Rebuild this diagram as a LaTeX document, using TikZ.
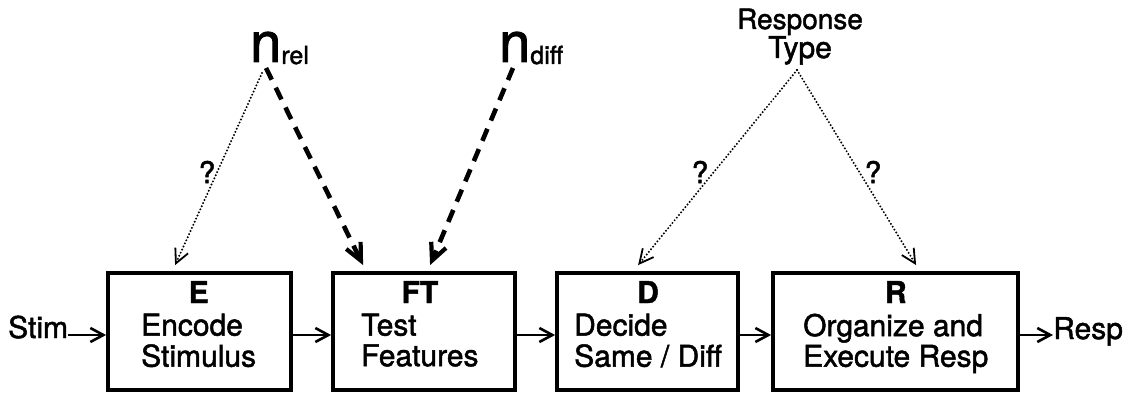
\documentclass[tikz,border=0pt]{standalone}
\usepackage{fontspec}
\setmainfont{TeX Gyre Heros}[FakeBold=1.6]
\usetikzlibrary{arrows.meta}
\begin{document}
\begin{tikzpicture}[x=1pt,y=-1pt,
  every node/.style={inner sep=0pt, font=\fontsize{30}{29}\selectfont},
  stage/.style={draw, line width=3.8pt, minimum width=#1, minimum height=117pt},
  flow/.style={line width=2.8pt, -{Straight Barb[length=13pt,width=14pt,line width=2.6pt]}},
  influence/.style={line width=4.6pt, dash pattern=on 13pt off 9pt,
    -{Straight Barb[length=17pt,width=16pt,line width=4.2pt]}},
  maybe/.style={line width=2.2pt, line cap=round, dash pattern=on 0pt off 3.4pt,
    -{Straight Barb[length=14pt,width=14pt,line width=1.8pt,line cap=butt]}},
  quest/.style={font=\fontsize{30}{30}\selectfont}
]
\useasboundingbox (0,0) rectangle (1132,393);

% processing stages
\node[stage=183] (E)  at (199.5,331.5) {};
\node[stage=182] (FT) at (424,331.5) {};
\node[stage=181] (D)  at (647.5,331.5) {};
\node[stage=245] (R)  at (895.5,331.5) {};

% stage labels: centred bold name over a left-aligned description
\newcommand\stagetext[3]{\begin{tabular}[t]{@{}l@{}}\multicolumn{1}{@{}c@{}}{\bfseries #1}\\[2pt]#2\\#3\end{tabular}}
\node[anchor=base west] (Etxt)  at (141,303) {\stagetext{E}{Encode}{Stimulus}};
\node[anchor=base west] (FTtxt) at (361,303) {\stagetext{FT}{Test}{Features}};
\node[anchor=base west] (Dtxt)  at (574,303) {\stagetext{D}{Decide}{Same / Diff}};
\node[anchor=base west] (Rtxt)  at (803,303) {\stagetext{R}{Organize and}{Execute Resp}};

% input and output
\node[anchor=base west] (stim) at (8,338) {Stim};
\node[anchor=base west] (resp) at (1053,339) {Resp};
\coordinate (row) at (0,335);

\draw[flow] (stim.east |- row) -- (E.west |- row);
\draw[flow] (E.east |- row) -- (FT.west |- row);
\draw[flow] (FT.east |- row) -- (D.west |- row);
\draw[flow] (D.east |- row) -- (R.west |- row);
\draw[flow] (R.east |- row) -- (resp.west |- row);

% factors
\node[anchor=base west] (nrel) at (250,62)
  {\fontsize{56}{56}\selectfont n\fontsize{25}{25}\selectfont\raisebox{-2pt}{rel}};
\node[anchor=base west] (ndiff) at (499,62)
  {\fontsize{56}{56}\selectfont n\fontsize{25}{25}\selectfont\raisebox{-2pt}{diff}};
\node[align=center, anchor=base] (rtype) at (800,58)
  {\fontsize{28}{25}\selectfont Response\\Type};

\coordinate (nrel-a) at (262,73);
\coordinate (nrel-b) at (266,68);
\coordinate (ndiff-a) at (513,68);
\coordinate (rtype-a) at (797,70);

\draw[maybe] (nrel-a) -- ([xshift=69pt,yshift=6pt]E.north west);
\draw[influence] (nrel-b) -- ([xshift=32pt,yshift=6pt]FT.north west);
\draw[influence] (ndiff-a) -- ([xshift=99pt,yshift=6pt]FT.north west);
\draw[maybe] (rtype-a) -- ([xshift=83pt,yshift=6pt]D.north west);
\draw[maybe] (rtype-a) -- ([xshift=145pt,yshift=6pt]R.north west);

% uncertain links
\node[quest] (q1) at (207,172) {?};
\node[quest] (q2) at (700,172) {?};
\node[quest] (q3) at (873,172) {?};
\end{tikzpicture}
\end{document}
